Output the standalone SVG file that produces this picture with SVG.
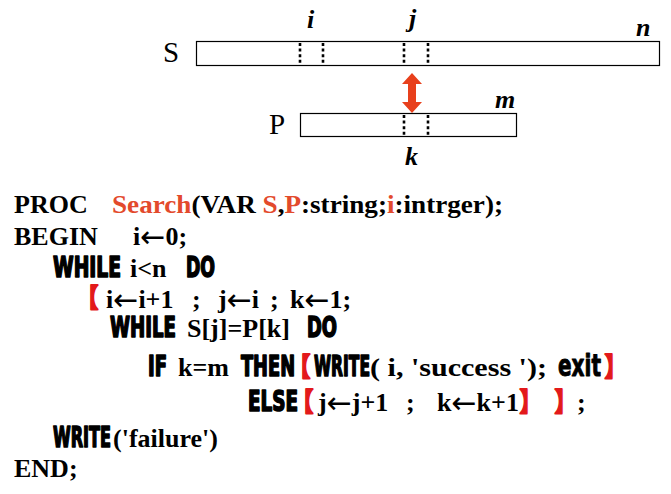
<svg xmlns="http://www.w3.org/2000/svg" width="671" height="494" viewBox="0 0 671 494">
<style>
.t{font-family:"Liberation Serif","Times New Roman",serif;font-weight:bold;font-size:26px;fill:#000}
.ar{font-family:"DejaVu Sans",sans-serif;font-weight:normal;font-size:30px}
.kw{font-family:"Liberation Sans Narrow","DejaVu Sans Condensed","Liberation Sans",sans-serif;font-weight:bold;font-size:28px;fill:#000;stroke:#000;stroke-width:1.6;stroke-linejoin:round}
.red{fill:#e34a2c}
.br{font-family:"Noto Sans CJK SC","Noto Sans CJK JP",sans-serif;font-weight:bold;font-size:26px;fill:#e3191b;stroke:#e3191b;stroke-width:1.8;stroke-linejoin:round;font-feature-settings:"palt"}
.lbl{font-family:"Liberation Serif","Times New Roman",serif;font-size:29px;fill:#000}
.var{font-family:"Liberation Serif","Times New Roman",serif;font-weight:bold;font-style:italic;font-size:26px;fill:#000}
.box{fill:#fff;stroke:#000;stroke-width:1.2}
.dot{stroke:#000;stroke-width:2.6;stroke-dasharray:3 2.6;fill:none}
</style>
<rect width="671" height="494" fill="#fff"/>
<g id="string-S">
<rect class="box" x="196.5" y="41.5" width="463" height="24"/>
<line class="dot" x1="300" y1="43" x2="300" y2="65"/>
<line class="dot" x1="323" y1="43" x2="323" y2="65"/>
<line class="dot" x1="404" y1="43" x2="404" y2="65"/>
<line class="dot" x1="428" y1="43" x2="428" y2="65"/>
<text class="lbl" x="163" y="62">S</text>
<text class="var" x="307" y="28">i</text>
<text class="var" x="409" y="27">j</text>
<text class="var" x="636" y="36">n</text>
</g>
<g id="string-P">
<rect class="box" x="300.5" y="113.5" width="216" height="23"/>
<line class="dot" x1="404" y1="115" x2="404" y2="137"/>
<line class="dot" x1="428" y1="115" x2="428" y2="137"/>
<text class="lbl" x="269" y="134">P</text>
<text class="var" x="495" y="108">m</text>
<text class="var" x="405" y="165">k</text>
</g>
<g id="connectors">
<polygon fill="#e8401c" points="412,73 402,84 408,84 408,102 402,102 412,113 422,102 416,102 416,84 422,84"/>
</g>
<g id="code">
<text class="t" x="14" y="213">PROC</text>
<text class="t" x="112" y="213" textLength="391" lengthAdjust="spacingAndGlyphs"><tspan class="red">Search</tspan>(VAR <tspan class="red">S</tspan>,<tspan class="red">P</tspan>:string;<tspan class="red">i</tspan>:intrger);</text>

<text class="t" x="14" y="245">BEGIN</text>
<text class="t" x="133" y="245">i<tspan class="ar" dy="2">←</tspan><tspan dy="-2">0;</tspan></text>

<text class="kw" x="53" y="277" textLength="68" lengthAdjust="spacingAndGlyphs">WHILE</text>
<text class="t" x="130" y="277">i&lt;n</text>
<text class="kw" x="186" y="277" textLength="29" lengthAdjust="spacingAndGlyphs">DO</text>

<text class="br" x="87" y="307" textLength="11" lengthAdjust="spacingAndGlyphs">【</text>
<text class="t" x="106" y="308">i<tspan class="ar" dy="2">←</tspan><tspan dy="-2">i+1</tspan></text>
<text class="t" x="192" y="308">;</text>
<text class="t" x="218" y="308">j<tspan class="ar" dy="2">←</tspan><tspan dy="-2">i</tspan></text>
<text class="t" x="270" y="308">;</text>
<text class="t" x="290" y="308">k<tspan class="ar" dy="2">←</tspan><tspan dy="-2">1;</tspan></text>

<text class="kw" x="110" y="337" textLength="66" lengthAdjust="spacingAndGlyphs">WHILE</text>
<text class="t" x="187" y="337">S[j]=P[k]</text>
<text class="kw" x="307" y="337" textLength="30" lengthAdjust="spacingAndGlyphs">DO</text>

<text class="kw" x="148" y="376" textLength="19" lengthAdjust="spacingAndGlyphs">IF</text>
<text class="t" x="178" y="376">k=m</text>
<text class="kw" x="241" y="376" textLength="54" lengthAdjust="spacingAndGlyphs">THEN</text>
<text class="br" x="299" y="376" textLength="11" lengthAdjust="spacingAndGlyphs">【</text>
<text class="kw" x="314" y="376" textLength="56" lengthAdjust="spacingAndGlyphs">WRITE</text>
<text class="t" x="370" y="376" textLength="177" lengthAdjust="spacingAndGlyphs">( i, 'success ');</text>
<text class="kw" x="558" y="376" textLength="43" lengthAdjust="spacingAndGlyphs" style="font-size:30px;stroke-width:0.9">exit</text>
<text class="br" x="605" y="376" textLength="11" lengthAdjust="spacingAndGlyphs">】</text>

<text class="kw" x="248" y="411" textLength="50" lengthAdjust="spacingAndGlyphs">ELSE</text>
<text class="br" x="302" y="411" textLength="11" lengthAdjust="spacingAndGlyphs">【</text>
<text class="t" x="318" y="411">j<tspan class="ar" dy="2">←</tspan><tspan dy="-2">j+1</tspan></text>
<text class="t" x="406" y="411">;</text>
<text class="t" x="437" y="411">k<tspan class="ar" dy="2">←</tspan><tspan dy="-2">k+1</tspan></text>
<text class="br" x="520" y="411" textLength="11" lengthAdjust="spacingAndGlyphs">】</text>
<text class="br" x="555" y="411" textLength="11" lengthAdjust="spacingAndGlyphs">】</text>
<text class="t" x="577" y="411">;</text>

<text class="kw" x="53" y="447" textLength="58" lengthAdjust="spacingAndGlyphs">WRITE</text>
<text class="t" x="113" y="447">('failure')</text>

<text class="t" x="14" y="477">END;</text>
</g>
</svg>
